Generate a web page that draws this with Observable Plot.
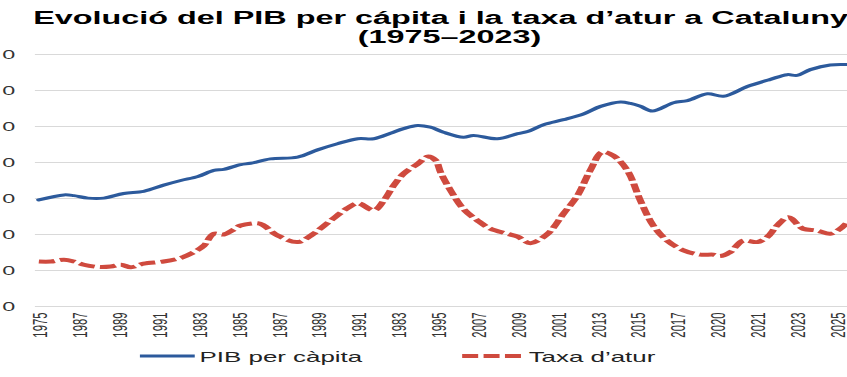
<!DOCTYPE html>
<html><head><meta charset="utf-8">
<script src="https://cdn.jsdelivr.net/npm/d3@7"></script>
<script src="https://cdn.jsdelivr.net/npm/@observablehq/plot@0.6"></script>
<style>
html,body{margin:0;padding:0;background:#fff;overflow:hidden;width:847px;height:377px;}
#wrap{position:absolute;left:0;top:0;width:471px;height:377px;transform-origin:0 0;transform:scaleX(1.7983);font-family:"Liberation Sans",Arial,sans-serif;}
.t{position:absolute;left:0;width:500px;text-align:center;white-space:nowrap;font-weight:bold;font-size:18px;line-height:20px;color:#000;}
#chart{position:absolute;left:0;top:48px;}
#legend{position:absolute;left:0;top:342px;overflow:visible;}
</style></head><body>
<div id="wrap">
  <div class="t" style="top:8px">Evolució del PIB per cápita i la taxa d’atur a Catalunya</div>
  <div class="t" style="top:27px">(1975–2023)</div>
  <div id="chart"></div>
  <svg id="legend" width="471" height="35"></svg>
</div>
<script>
// Category tick labels (as printed on the original axis)
const tickLabels = ["1975","1987","1989","1991","1983","1985","1987","1989","1991","1983","1995","2007","2009","2001","2013","2015","2017","2020","2021","2023","2025"];
const yTicks = [0,10,20,30,40,50,60,70];

// PIB per càpita: position along the category axis and value
const pibT = [-0.05,0.58,0.83,1.18,1.58,2.08,2.58,3.08,3.51,3.94,4.34,4.59,5.01,5.26,5.76,6.44,6.94,7.44,7.95,8.35,8.77,9.10,9.45,9.77,10.10,10.60,10.85,11.45,11.96,12.21,12.61,13.11,13.61,14.04,14.54,14.79,15.04,15.34,15.87,16.22,16.72,17.12,17.72,18.30,18.72,18.97,19.30,19.80,20.23];
const pibV = [29.6,31.0,30.8,30.1,30.1,31.4,32.0,33.7,35.0,36.1,37.8,38.1,39.4,39.8,41.0,41.5,43.5,45.2,46.6,46.6,48.1,49.4,50.3,49.8,48.4,47.0,47.5,46.6,48.0,48.6,50.5,51.9,53.5,55.6,56.8,56.4,55.6,54.3,56.6,57.2,59.1,58.4,61.1,63.1,64.4,64.2,65.8,67.1,67.2];

// Taxa d'atur
const aturT = [-0.05,0.25,0.58,0.83,1.08,1.43,1.75,2.01,2.26,2.58,3.08,3.51,3.84,4.09,4.34,4.59,4.84,5.01,5.44,5.59,5.94,6.44,6.77,7.27,7.69,7.95,8.35,8.60,8.85,9.10,9.45,9.72,9.90,10.03,10.28,10.60,10.95,11.28,11.70,11.96,12.28,12.71,13.11,13.46,13.78,14.09,14.36,14.71,15.04,15.36,15.71,16.12,16.54,16.87,17.04,17.29,17.62,17.97,18.22,18.47,18.75,19.12,19.47,19.80,20.05,20.23];
const aturV = [12.5,12.5,13.0,12.5,11.6,11.0,11.1,11.6,10.9,11.9,12.5,13.5,15.1,16.9,20.2,20.0,21.4,22.5,23.1,22.5,19.7,17.9,19.7,23.9,27.3,28.7,26.7,29.4,33.6,36.9,39.6,41.7,40.6,37.2,32.2,27.1,23.9,21.6,20.2,19.4,17.6,20.2,25.8,30.8,37.8,42.9,41.9,37.8,29.4,22.5,18.3,15.6,14.4,14.4,14.0,15.1,18.3,17.9,19.3,22.5,24.8,21.6,21.1,20.2,21.6,23.4];

const seriesNames = ["PIB per càpita","Taxa d’atur"];
const seriesColors = ["#2c5a9c","#cf4a3e"];

const pibData = pibT.map((t,i)=>({t, v: pibV[i]}));
const aturData = aturT.map((t,i)=>({t, v: aturV[i]}));

const chart = Plot.plot({
  width: 471, height: 294,
  marginLeft: 19.4, marginRight: 0, marginTop: 6, marginBottom: 36,
  style: {fontFamily: "Liberation Sans, Arial, sans-serif", background: "transparent", overflow: "hidden"},
  x: {domain: [-0.127, 20.243], axis: null},
  y: {domain: [0, 70], axis: null},
  marks: [
    Plot.ruleY(yTicks, {stroke: "#d9d9d9", strokeWidth: 1}),
    Plot.axisX({ticks: d3.range(tickLabels.length), tickFormat: i => tickLabels[i], tickRotate: -90, tickSize: 0, tickPadding: 6, fontSize: 11.3, fill: "#333", label: null}),
    // only the last digit of each value label is visible in the (cropped) original
    Plot.axisY({ticks: yTicks, tickFormat: d => String(d).slice(-1), tickSize: 0, tickPadding: 11.4, fontSize: 13, fill: "#333", label: null}),
    Plot.line(pibData, {x: "t", y: "v", stroke: seriesColors[0], strokeWidth: 3, curve: "catmull-rom"}),
    Plot.line(aturData, {x: "t", y: "v", stroke: seriesColors[1], strokeWidth: 4, strokeDasharray: "8.9,3", strokeLinecap: "butt", curve: "catmull-rom"})
  ]
});
document.getElementById("chart").appendChild(chart);

// Legend
const lg = d3.select("#legend");
const items = [{x0: 77.8, x1: 108.3, tx: 111}, {x0: 257, x1: 289.7, tx: 294}];
seriesNames.forEach((name, i) => {
  const it = items[i];
  lg.append("line").attr("x1", it.x0).attr("x2", it.x1).attr("y1", 14).attr("y2", 14)
    .attr("stroke", seriesColors[i]).attr("stroke-width", i ? 4 : 3)
    .attr("stroke-dasharray", i ? "8.9,3" : null);
  lg.append("text").attr("x", it.tx).attr("y", 20).attr("font-size", 14.4)
    .attr("font-family", "Liberation Sans, Arial, sans-serif").attr("fill", "#222").text(name);
});
</script>
</body></html>
